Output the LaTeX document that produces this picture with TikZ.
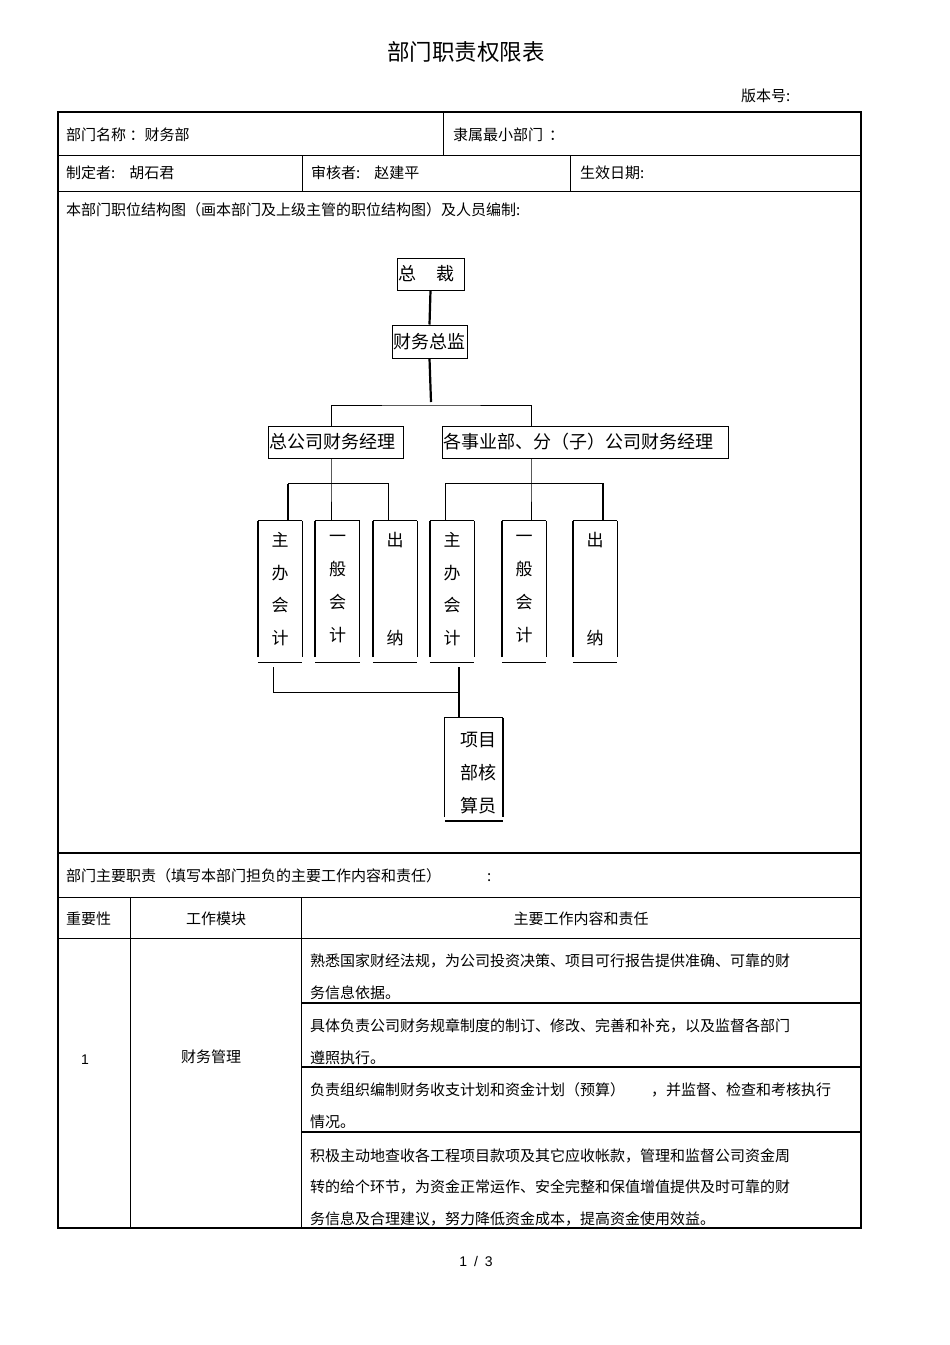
\documentclass[tikz,border=0pt]{standalone}
\usepackage{fontspec}
\setmainfont{Liberation Sans}
\newfontfamily\cjk{Noto Sans CJK SC}
\begin{document}
\begin{tikzpicture}[x=1pt,y=-1pt,
  txt/.style={anchor=west,inner sep=0pt,font=\cjk\fontsize{15}{17}\selectfont},
  ctxt/.style={inner sep=0pt,font=\cjk\fontsize{15}{17}\selectfont},
  orgbox/.style={draw,line width=1pt,inner sep=1pt,align=left,font=\cjk\fontsize{18}{20}\selectfont},
  vbox/.style={inner sep=0pt,minimum width=44pt,minimum height=136pt,align=center,font=\cjk\fontsize{17}{32.7}\selectfont},
  thk/.style={line width=2.2pt},
  thn/.style={line width=0.9pt},
  outer/.style={line width=1.6pt},
  grid/.style={line width=0.9pt}]
\useasboundingbox (0,0) rectangle (950,1345);

% ---------- header ----------
\node[inner sep=0pt,font=\cjk\fontsize{22.5}{25}\selectfont] (title) at (466,52) {部门职责权限表};
\node[txt] (ver) at (741,96) {版本号:};

% ---------- table lines ----------
\draw[outer] (58,112) rectangle (861,1228);
\draw[grid] (58,155) -- (861,155);
\draw[grid] (58,191) -- (861,191);
\draw[line width=2.6pt] (58,853) -- (861,853);
\draw[grid] (58,897) -- (861,897);
\draw[grid] (58,938) -- (861,938);
\draw[grid] (443,112) -- (443,155);
\draw[grid] (302,155) -- (302,191);
\draw[grid] (570,155) -- (570,191);
\draw[grid] (130,897) -- (130,1228);
\draw[grid] (301,897) -- (301,1228);
\draw[line width=1.3pt] (301,1003) -- (861,1003);
\draw[line width=1.3pt] (301,1067) -- (861,1067);
\draw[line width=1.3pt] (301,1132) -- (861,1132);

% ---------- table texts ----------
\node[txt] (t1) at (66,135) {部门名称 ：财务部};
\node[txt] (t2) at (453,135) {隶属最小部门\hspace{6pt}：};
\node[txt] (t3) at (66,173) {制定者:\hspace{14pt}胡石君};
\node[txt] (t4) at (311,173) {审核者:\hspace{14pt}赵建平};
\node[txt] (t5) at (580,173) {生效日期:};
\node[txt] (t6) at (66,210) {本部门职位结构图（画本部门及上级主管的职位结构图）及人员编制:};
\node[txt] (t7) at (66,876) {部门主要职责（填写本部门担负的主要工作内容和责任）\hspace{46pt}:};
\node[txt] (h1) at (66,919) {重要性};
\node[ctxt] (h2) at (216,919) {工作模块};
\node[ctxt] (h3) at (581,919) {主要工作内容和责任};
\node[inner sep=0pt,font=\fontsize{14}{16}\selectfont] (imp) at (85,1060) {1};
\node[ctxt] (mod) at (211,1057) {财务管理};
\node[txt] (c1a) at (310,961) {熟悉国家财经法规，为公司投资决策、项目可行报告提供准确、可靠的财};
\node[txt] (c1b) at (310,993) {务信息依据。};
\node[txt] (c2a) at (310,1026) {具体负责公司财务规章制度的制订、修改、完善和补充，以及监督各部门};
\node[txt] (c2b) at (310,1058) {遵照执行。};
\node[txt] (c3a) at (310,1090) {负责组织编制财务收支计划和资金计划（预算）\hspace{26pt}，并监督、检查和考核执行};
\node[txt] (c3b) at (310,1122) {情况。};
\node[txt] (c4a) at (310,1156) {积极主动地查收各工程项目款项及其它应收帐款，管理和监督公司资金周};
\node[txt] (c4b) at (310,1187) {转的给个环节，为资金正常运作、安全完整和保值增值提供及时可靠的财};
\node[txt] (c4c) at (310,1219) {务信息及合理建议，努力降低资金成本，提高资金使用效益。};
\node[inner sep=0pt,font=\fontsize{14}{16}\selectfont] (pg) at (476,1261) {1\hspace{7pt}/\hspace{7pt}3};

% ---------- org chart ----------
\node[orgbox,text width=65pt,minimum height=32pt] (zc) at (430.5,274) {总\hspace{20pt}裁};
\node[orgbox,text width=73pt,minimum height=33pt] (cwzj) at (429.5,341.5) {财务总监};
\node[orgbox,text width=133pt,minimum height=32pt] (zgs) at (335.5,442) {总公司财务经理};
\node[orgbox,text width=284pt,minimum height=32pt] (gsy) at (585,442) {各事业部、分（子）公司财务经理};

\node[vbox] (b1) at (280,589) {主\\办\\会\\计};
\node[vbox] (b2) at (337.5,589) {一\\般\\会\\计};
\node[vbox] (b3) at (395,589) {出\\\strut\\\strut\\纳};
\node[vbox] (b4) at (452,589) {主\\办\\会\\计};
\node[vbox] (b5) at (524,589) {一\\般\\会\\计};
\node[vbox] (b6) at (595,589) {出\\\strut\\\strut\\纳};
\node[inner sep=0pt,minimum width=58pt,minimum height=99pt] (xm) at (474,767.5) {};
\node[inner sep=0pt,align=center,font=\cjk\fontsize{18}{33}\selectfont] (xmt) at (478,773) {项目\\部核\\算员};

\foreach \b in {b1,b2,b3,b4,b5,b6}{
  \draw[line width=2pt] (\b.south west) -- (\b.north west);
  \draw[line width=1pt] (\b.north west) -- (\b.north east);
  \draw[line width=1.3pt] (\b.north east) -- (\b.south east);
  \draw[line width=1.3pt] ([yshift=-5pt]\b.south west) -- ([yshift=-5pt]\b.south east);
}
\draw[line width=1pt] (xm.south west) -- (xm.north west) -- (xm.north east);
\draw[line width=1.5pt] (xm.north east) -- (xm.south east);
\draw[line width=1.5pt] ([yshift=-4pt]xm.south west) -- ([yshift=-4pt]xm.south east);

% connectors
\coordinate (j1) at (431,405);
\coordinate (j2) at (331,483);
\coordinate (j3) at (531,483);
\coordinate (j4) at (459,692);
\draw[thk] (zc.south) -- (cwzj.north);
\draw[thk] (cwzj.south) -- ([yshift=3pt]j1);
\draw[thn] ([xshift=-4.5pt]zgs.north) |- (j1) -| ([xshift=-54pt]gsy.north);

\draw[thn] ([xshift=-4.5pt]zgs.south) -- (j2) -- ([xshift=-6.5pt]b2.north);
\draw[thn] (j2) -| ([xshift=-7pt]b3.north);
\draw[thn] (j2) -| ([xshift=8pt]b1.north);
\draw[line width=2pt] ([xshift=8pt]b1.north) -- ++(0,-37);

\draw[thn] ([xshift=-54pt]gsy.south) -- (j3) -- ([xshift=7pt]b5.north);
\draw[thn] (j3) -| ([xshift=-7pt]b4.north);
\draw[thn] (j3) -| ([xshift=8pt]b6.north);
\draw[line width=2pt] ([xshift=8pt]b6.north) -- ++(0,-37);

\draw[thn] ([xshift=-7pt,yshift=-10pt]b1.south) |- (j4);
\draw[thk] ([xshift=7pt,yshift=-10pt]b4.south) -- (j4) -- ([xshift=-15pt]xm.north);
\end{tikzpicture}
\end{document}
